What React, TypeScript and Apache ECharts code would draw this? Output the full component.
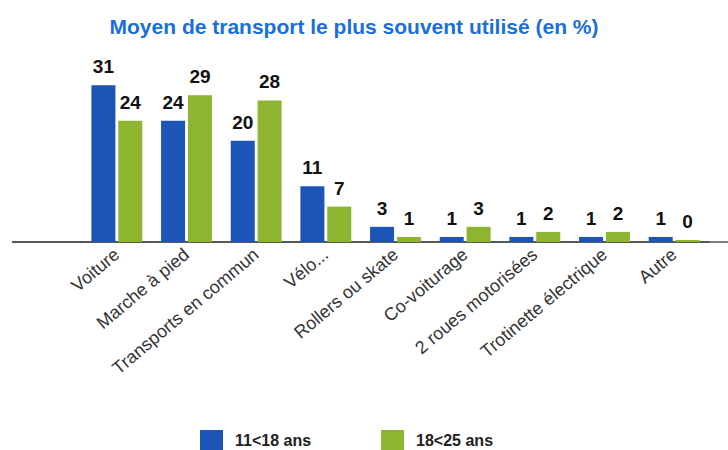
import React, { useEffect, useRef } from "react";
import * as echarts from "echarts";

const categories = [
  "Voiture",
  "Marche à pied",
  "Transports en commun",
  "Vélo...",
  "Rollers ou skate",
  "Co-voiturage",
  "2 roues motorisées",
  "Trotinette électrique",
  "Autre",
];
const series11_18 = [31, 24, 20, 11, 3, 1, 1, 1, 1];
const series18_25 = [24, 29, 28, 7, 1, 3, 2, 2, 0];
const seriesNames = ["11<18 ans", "18<25 ans"];

export default function App() {
  const ref = useRef<HTMLDivElement>(null);
  useEffect(() => {
    if (!ref.current) return;
    const chart = echarts.init(ref.current, null, { renderer: "svg" });
    const labelStyle = {
      show: true,
      position: "top" as const,
      distance: 9,
      color: "#111",
      fontFamily: "Liberation Sans, Arial, sans-serif",
      fontWeight: "bold" as const,
      fontSize: 19,
    };
    chart.setOption({
      animation: false,
      backgroundColor: "#ffffff",
      title: {
        text: "Moyen de transport le plus souvent utilisé (en %)",
        left: 349,
        textAlign: "center",
        top: 11,
        textStyle: {
          color: "#1a6fd8",
          fontFamily: "Liberation Sans, Arial, sans-serif",
          fontWeight: "bold",
          fontSize: 21,
        },
      },
      grid: { left: 82, right: 19, top: 65, bottom: 208, containLabel: false },
      xAxis: {
        type: "category",
        data: categories,
        axisLine: { show: true, lineStyle: { color: "#222", width: 1.5 } },
        axisTick: { show: false },
        axisLabel: {
          rotate: 40,
          interval: 0,
          margin: 10,
          color: "#333",
          fontFamily: "Liberation Sans, Arial, sans-serif",
          fontSize: 18,
        },
      },
      yAxis: {
        type: "value",
        min: 0,
        max: 35,
        show: false,
        splitLine: { show: false },
      },
      legend: {
        left: 200,
        top: 430,
        padding: 0,
        itemWidth: 23,
        itemHeight: 20,
        itemGap: 70,
        icon: "rect",
        textStyle: {
          color: "#222",
          fontFamily: "Liberation Sans, Arial, sans-serif",
          fontWeight: "bold",
          fontSize: 16,
          padding: [0, 0, 0, 7],
        },
        data: seriesNames,
      },
      graphic: [
        {
          type: "line",
          shape: { x1: 12, y1: 242, x2: 82, y2: 242 },
          style: { stroke: "#222", lineWidth: 1.5 },
        },
        {
          type: "line",
          shape: { x1: 709, y1: 242, x2: 728, y2: 242 },
          style: { stroke: "#555", lineWidth: 1.5 },
        },
      ],
      series: [
        {
          name: seriesNames[0],
          type: "bar",
          data: series11_18,
          barWidth: 24,
          barGap: "12%",
          barMinHeight: 2,
          itemStyle: { color: "#1d55b6" },
          label: labelStyle,
        },
        {
          name: seriesNames[1],
          type: "bar",
          data: series18_25,
          barWidth: 24,
          barMinHeight: 2,
          itemStyle: { color: "#8db52f" },
          label: labelStyle,
        },
      ],
    });
    return () => chart.dispose();
  }, []);
  return (
    <div
      ref={ref}
      style={{ position: "absolute", left: 0, top: 0, width: 728, height: 450 }}
    />
  );
}
